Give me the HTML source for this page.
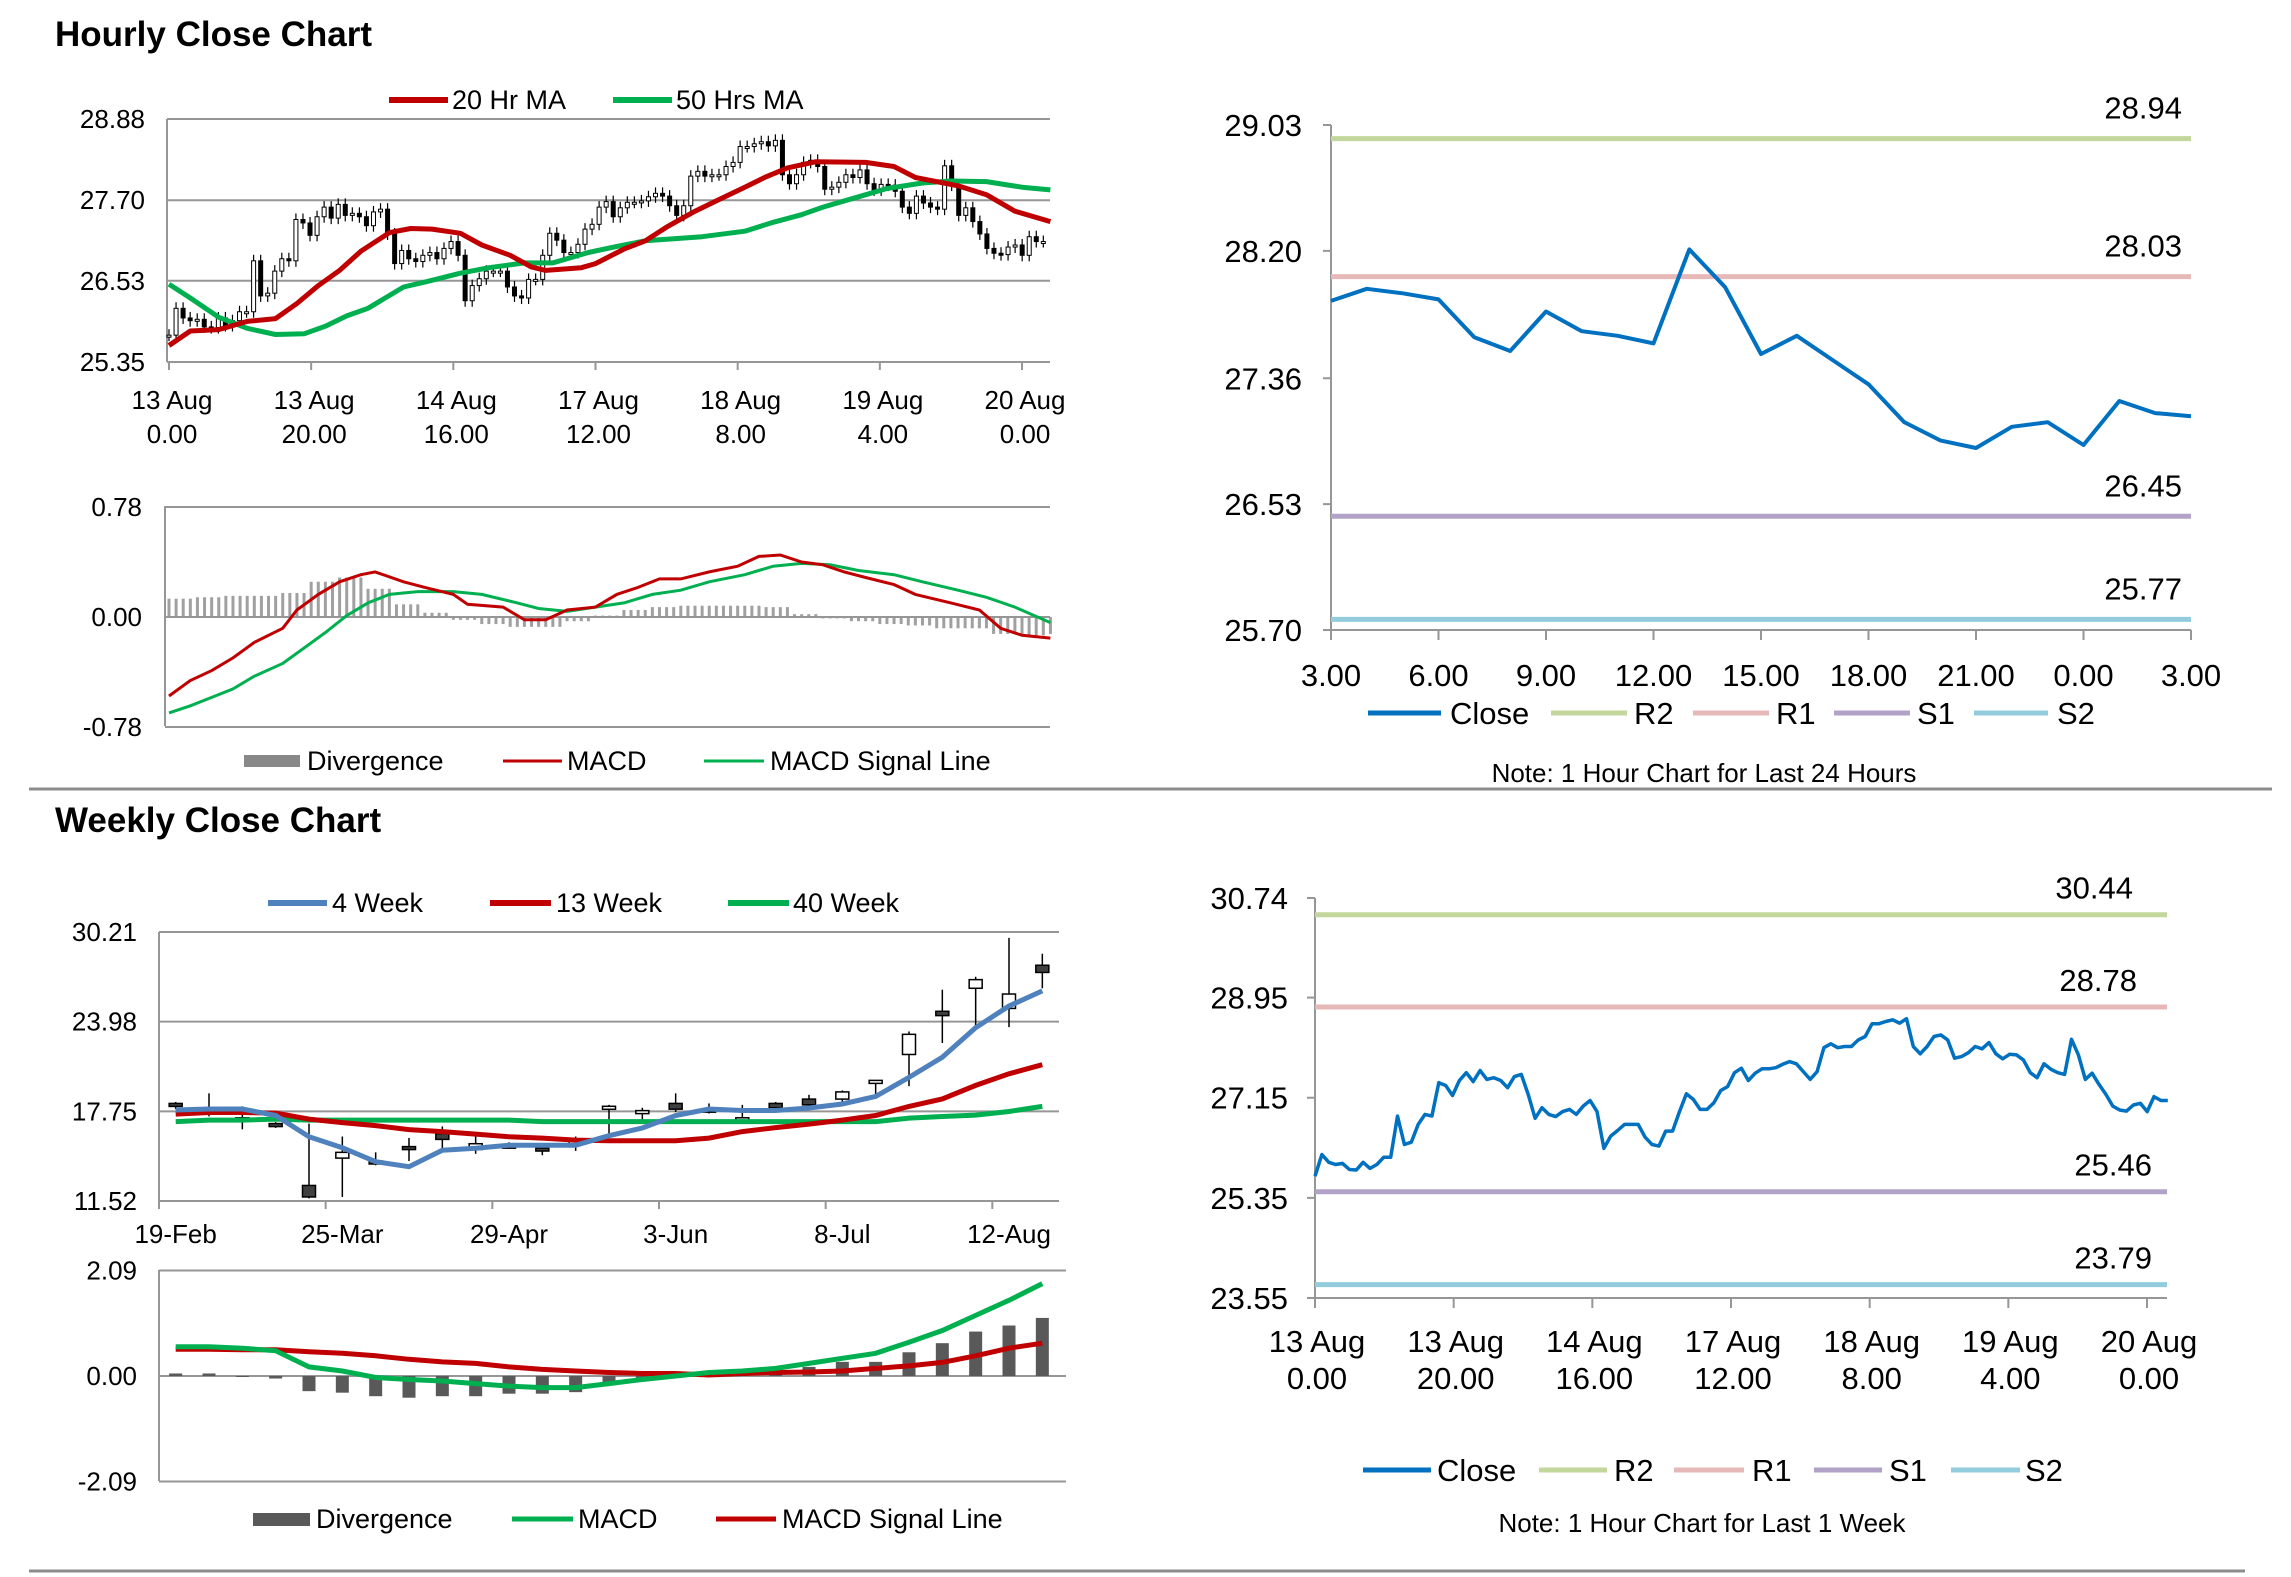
<!DOCTYPE html>
<html><head><meta charset="utf-8"><style>
html,body{margin:0;padding:0;background:#fff;}
svg{display:block;font-family:"Liberation Sans Narrow","Liberation Sans",sans-serif;}
</style></head><body>
<svg id="s" width="2291" height="1577" viewBox="0 0 2291 1577" xmlns="http://www.w3.org/2000/svg">
<rect x="0" y="0" width="2291" height="1577" fill="#fff"/>
<text x="55" y="46" font-size="35" font-weight="bold" font-family="Liberation Sans, sans-serif">Hourly Close Chart</text>
<text x="55" y="832" font-size="35" font-weight="bold" font-family="Liberation Sans, sans-serif">Weekly Close Chart</text>
<line x1="29" y1="789" x2="2272" y2="789" stroke="#8c8c8c" stroke-width="3"/>
<line x1="29" y1="1571" x2="2245" y2="1571" stroke="#8c8c8c" stroke-width="3"/>

<g font-size="27">
<line x1="389" y1="100" x2="448" y2="100" stroke="#c00000" stroke-width="6"/>
<text x="452" y="109">20 Hr MA</text>
<line x1="613" y1="100" x2="672" y2="100" stroke="#00b050" stroke-width="6"/>
<text x="676" y="109">50 Hrs MA</text>
</g>
<g font-size="27">
<rect x="244" y="755" width="56" height="12" fill="#888"/>
<text x="307" y="770">Divergence</text>
<line x1="503" y1="761" x2="562" y2="761" stroke="#c00000" stroke-width="3"/>
<text x="567" y="770">MACD</text>
<line x1="704" y1="761" x2="764" y2="761" stroke="#00b050" stroke-width="3"/>
<text x="770" y="770">MACD Signal Line</text>
</g>

<g font-size="31">
<line x1="1368" y1="713" x2="1441" y2="713" stroke="#0070c0" stroke-width="5"/>
<text x="1450" y="724">Close</text>
<line x1="1551" y1="713" x2="1627" y2="713" stroke="#c3d69b" stroke-width="5"/>
<text x="1634" y="724">R2</text>
<line x1="1693" y1="713" x2="1769" y2="713" stroke="#e6b9b8" stroke-width="5"/>
<text x="1776" y="724">R1</text>
<line x1="1834" y1="713" x2="1910" y2="713" stroke="#b3a2c7" stroke-width="5"/>
<text x="1917" y="724">S1</text>
<line x1="1974" y1="713" x2="2048" y2="713" stroke="#93cddd" stroke-width="5"/>
<text x="2057" y="724">S2</text>
</g>
<text x="1704" y="782" font-size="26" text-anchor="middle">Note: 1 Hour Chart for Last 24 Hours</text>

<g font-size="27">
<line x1="268" y1="903" x2="327" y2="903" stroke="#4f81bd" stroke-width="6"/>
<text x="332" y="912">4 Week</text>
<line x1="490" y1="903" x2="551" y2="903" stroke="#c00000" stroke-width="6"/>
<text x="556" y="912">13 Week</text>
<line x1="728" y1="903" x2="789" y2="903" stroke="#00b050" stroke-width="6"/>
<text x="793" y="912">40 Week</text>
</g>
<g font-size="27">
<rect x="253" y="1513" width="57" height="13" fill="#595959"/>
<text x="316" y="1528">Divergence</text>
<line x1="512" y1="1519" x2="573" y2="1519" stroke="#00b050" stroke-width="5"/>
<text x="578" y="1528">MACD</text>
<line x1="716" y1="1519" x2="776" y2="1519" stroke="#c00000" stroke-width="5"/>
<text x="782" y="1528">MACD Signal Line</text>
</g>

<g font-size="31">
<line x1="1363" y1="1470" x2="1431" y2="1470" stroke="#0070c0" stroke-width="5"/>
<text x="1437" y="1481">Close</text>
<line x1="1539" y1="1470" x2="1607" y2="1470" stroke="#c3d69b" stroke-width="5"/>
<text x="1614" y="1481">R2</text>
<line x1="1674" y1="1470" x2="1744" y2="1470" stroke="#e6b9b8" stroke-width="5"/>
<text x="1752" y="1481">R1</text>
<line x1="1814" y1="1470" x2="1882" y2="1470" stroke="#b3a2c7" stroke-width="5"/>
<text x="1889" y="1481">S1</text>
<line x1="1951" y1="1470" x2="2020" y2="1470" stroke="#93cddd" stroke-width="5"/>
<text x="2025" y="1481">S2</text>
</g>
<text x="1702" y="1532" font-size="26" text-anchor="middle">Note: 1 Hour Chart for Last 1 Week</text>
</svg>
<script>
// ---------- data ----------
const hourlyCloses = [25.74,26.13,25.99,25.95,25.97,25.86,25.85,25.99,25.88,25.95,26.08,26.08,26.82,26.31,26.35,26.67,26.85,26.82,27.42,27.37,27.19,27.46,27.60,27.44,27.64,27.48,27.51,27.46,27.33,27.53,27.57,27.21,26.78,26.97,26.85,26.81,26.90,26.94,26.85,27.00,27.10,26.90,26.24,26.46,26.56,26.67,26.67,26.67,26.44,26.31,26.28,26.55,26.55,26.90,27.22,27.12,26.94,26.94,27.06,27.28,27.35,27.60,27.68,27.46,27.59,27.67,27.67,27.69,27.75,27.80,27.76,27.62,27.48,27.62,28.05,28.12,28.05,28.07,28.07,28.19,28.25,28.48,28.48,28.52,28.55,28.49,28.57,28.07,27.94,28.07,28.25,28.28,28.19,27.86,27.89,27.96,28.07,28.03,28.14,27.94,27.85,27.93,27.92,27.83,27.60,27.51,27.76,27.66,27.60,27.57,28.20,27.92,27.48,27.59,27.39,27.21,27.00,26.93,26.91,27.02,27.05,26.90,27.17,27.10,27.10];
const hourlySpanHours = 123;
const hourTickLabels1 = ["13 Aug","13 Aug","14 Aug","17 Aug","18 Aug","19 Aug","20 Aug"];
const hourTickLabels2 = ["0.00","20.00","16.00","12.00","8.00","4.00","0.00"];
const ma20Hours = [0,3,7,11,15,18,21,24,27,31,34,37,41,44,48,51,53,58,60,64,67,70,74,77,81,84,87,91,98,102,105,111,115,119,124];
const ma20Values = [25.59,25.80,25.82,25.94,25.98,26.20,26.46,26.68,26.96,27.23,27.29,27.28,27.22,27.05,26.90,26.73,26.68,26.72,26.78,26.99,27.11,27.31,27.54,27.69,27.89,28.04,28.17,28.26,28.25,28.19,28.03,27.91,27.78,27.54,27.39];
const ma50Hours = [0,3,7,11,15,19,22,25,28,33,36,41,45,50,54,59,63,67,71,75,81,85,89,92,97,101,106,110,115,120,124];
const ma50Values = [26.48,26.28,26.00,25.84,25.75,25.76,25.87,26.02,26.13,26.44,26.51,26.64,26.72,26.79,26.79,26.94,27.03,27.11,27.14,27.17,27.25,27.38,27.49,27.60,27.75,27.87,27.95,27.98,27.97,27.89,27.85];
const macdHours = [0,3,6,9,12,16,18,21,24,27,29,33,36,40,42,47,50,53,56,60,63,66,69,72,76,80,83,86,89,92,95,98,102,105,110,114,117,120,124];
const macdValues = [-0.56,-0.45,-0.38,-0.29,-0.18,-0.08,0.05,0.16,0.25,0.30,0.32,0.25,0.21,0.16,0.09,0.07,-0.02,-0.02,0.05,0.07,0.16,0.21,0.27,0.27,0.32,0.36,0.43,0.44,0.39,0.37,0.32,0.28,0.23,0.16,0.10,0.05,-0.08,-0.13,-0.15];
const signalHours = [0,3,6,9,12,16,19,22,25,28,31,35,40,44,49,52,56,60,64,68,72,76,81,85,89,93,97,102,106,111,115,119,124];
const signalValues = [-0.68,-0.63,-0.57,-0.51,-0.42,-0.33,-0.22,-0.11,0.01,0.10,0.16,0.18,0.18,0.16,0.10,0.06,0.04,0.07,0.10,0.16,0.19,0.25,0.30,0.36,0.38,0.37,0.33,0.30,0.25,0.19,0.14,0.07,-0.04];
const divergence4h = [0.13,0.14,0.15,0.15,0.17,0.25,0.28,0.20,0.09,0.03,-0.02,-0.05,-0.07,-0.07,-0.03,0.01,0.05,0.07,0.08,0.08,0.08,0.07,0.02,-0.01,-0.03,-0.05,-0.06,-0.08,-0.08,-0.12,-0.13,-0.12];

const dayCloses = [27.87,27.95,27.92,27.88,27.63,27.54,27.80,27.67,27.64,27.59,28.21,27.96,27.52,27.64,27.48,27.32,27.07,26.95,26.90,27.04,27.07,26.92,27.21,27.13,27.11];
const dayTickLabels = ["3.00","6.00","9.00","12.00","15.00","18.00","21.00","0.00","3.00"];
const dayLevelNames = ["R2","R1","S1","S2"];
const dayLevels = [28.94,28.03,26.45,25.77];
const dayTicks = [29.03,28.20,27.36,26.53,25.70];

const weekLevels = [30.44,28.78,25.46,23.79];
const weekTicks = [30.74,28.95,27.15,25.35,23.55];

const weekCategories = ["19-Feb","26-Feb","4-Mar","11-Mar","18-Mar","25-Mar","1-Apr","8-Apr","15-Apr","22-Apr","29-Apr","6-May","13-May","20-May","27-May","3-Jun","10-Jun","17-Jun","24-Jun","1-Jul","8-Jul","15-Jul","22-Jul","29-Jul","5-Aug","12-Aug","19-Aug"];
const weekOpen  = [18.3,18.0,17.3,16.9,12.6,14.5,14.3,15.3,16.2,15.1,15.4,15.2,15.6,18.0,17.6,18.3,17.8,17.2,18.3,18.6,18.6,19.8,21.7,24.7,26.3,24.9,27.9];
const weekClose = [18.1,17.9,17.2,16.7,11.8,14.9,14.2,15.1,15.8,15.5,15.3,15.0,15.7,18.1,17.8,17.9,17.9,17.3,18.0,18.2,19.1,19.9,23.1,24.4,26.9,25.9,27.4];
const weekHigh  = [18.4,19.0,18.1,17.0,16.9,16.0,14.9,15.9,16.7,16.0,15.6,15.3,16.0,18.2,18.0,19.0,18.3,18.2,18.4,18.9,19.2,19.9,23.3,26.2,27.1,29.8,28.7];
const weekLow   = [17.9,17.4,16.5,16.6,11.7,11.8,14.0,14.3,15.2,14.8,15.2,14.7,15.0,16.0,17.2,17.7,17.6,17.0,17.7,17.9,18.1,18.8,19.5,22.5,23.7,23.6,26.3];
const ma4Week  = [17.84,17.91,17.91,17.46,15.99,15.22,14.25,13.90,15.05,15.19,15.40,15.40,15.40,16.06,16.59,17.46,17.91,17.81,17.81,17.98,18.26,18.79,20.11,21.51,23.57,25.07,26.12];
const ma13Week = [17.56,17.67,17.67,17.63,17.21,16.97,16.76,16.48,16.34,16.17,15.99,15.89,15.75,15.71,15.71,15.71,15.89,16.34,16.62,16.86,17.14,17.46,18.09,18.61,19.55,20.36,20.99];
const ma40Week = [17.04,17.14,17.14,17.21,17.14,17.14,17.14,17.14,17.14,17.14,17.14,17.04,17.04,17.04,17.04,17.04,17.04,17.04,17.04,17.04,17.04,17.04,17.28,17.39,17.49,17.74,18.09];
const weekPriceTicks = [30.21,23.98,17.75,11.52];
const weekMacd = [0.58,0.58,0.55,0.50,0.18,0.10,-0.03,-0.07,-0.10,-0.15,-0.20,-0.23,-0.23,-0.15,-0.07,0.00,0.07,0.10,0.15,0.25,0.35,0.45,0.67,0.90,1.20,1.50,1.83];
const weekSignal = [0.53,0.53,0.52,0.52,0.48,0.45,0.40,0.33,0.28,0.25,0.18,0.13,0.10,0.07,0.05,0.05,0.02,0.05,0.07,0.08,0.10,0.15,0.20,0.27,0.40,0.55,0.65];
const weekDivergence = [0.05,0.05,-0.02,-0.05,-0.30,-0.33,-0.40,-0.43,-0.40,-0.40,-0.35,-0.35,-0.32,-0.18,-0.10,-0.03,0.05,0.07,0.10,0.18,0.28,0.28,0.47,0.65,0.88,1.00,1.15];
const weekMacdTicks = [2.09,0.00,-2.09];
const hourPriceTicks = [28.88,27.70,26.53,25.35];
const hourMacdTicks = [0.78,0.00,-0.78];

// ---------- helpers ----------
const svg = document.getElementById('s');
const NS = 'http://www.w3.org/2000/svg';
function mk(tag, attrs) {
  const e = document.createElementNS(NS, tag);
  for (const k in attrs) e.setAttribute(k, attrs[k]);
  svg.appendChild(e);
  return e;
}
function txt(x, y, s, size, anchor) {
  const e = mk('text', {x: x, y: y, 'font-size': size, 'text-anchor': anchor || 'start'});
  e.textContent = s;
  return e;
}
function pathFrom(xs, ys) {
  let d = '';
  for (let i = 0; i < xs.length; i++) d += (i ? 'L' : 'M') + xs[i].toFixed(1) + ',' + ys[i].toFixed(1);
  return d;
}
function hourIndex(i) { return i * hourlySpanHours / (hourlyCloses.length - 1); }

// ---------- Chart 1: hourly candles ----------
const x1 = h => 169 + h * 853 / 120;
const y1 = v => 119 + (28.88 - v) / 3.53 * 243;
hourPriceTicks.forEach((t, i) => {
  const g = mk('line', {x1: 167, x2: 1050, y1: y1(t), y2: y1(t), stroke: '#969696', 'stroke-width': 2});
  
  
  const l = txt(145, y1(t) + 9, t.toFixed(2), 26, 'end');
  
  
});
let ax = mk('line', {x1: 167, x2: 167, y1: 119, y2: 362, stroke: '#969696', 'stroke-width': 2});


for (let k = 0; k < 7; k++) {
  const tx = x1(k * 20);
  const tk = mk('line', {x1: tx, x2: tx, y1: 362, y2: 370, stroke: '#969696', 'stroke-width': 2});
  
  
  const a = txt(tx + 3, 409, hourTickLabels1[k], 26, 'middle');
  
  
  const b = txt(tx + 3, 443, hourTickLabels2[k], 26, 'middle');
  
  
}
hourlyCloses.forEach((c, i) => {
  const o = i > 0 ? hourlyCloses[i - 1] : c;
  const cx = x1(hourIndex(i));
  const top = y1(Math.max(o, c)), bot = y1(Math.min(o, c));
  const w = mk('line', {x1: cx, x2: cx, y1: top - 6, y2: bot + 6, stroke: '#000', 'stroke-width': 1.2});
  
  
  const r = mk('rect', {x: cx - 2, y: top, width: 4, height: Math.max(2, bot - top), fill: c >= o ? '#fff' : '#000', stroke: '#000', 'stroke-width': 1});
  
  
});
let p = mk('path', {d: pathFrom(ma50Hours.map(x1), ma50Values.map(y1)), fill: 'none', stroke: '#00b050', 'stroke-width': 5, 'stroke-linejoin': 'round'});


p = mk('path', {d: pathFrom(ma20Hours.map(x1), ma20Values.map(y1)), fill: 'none', stroke: '#c00000', 'stroke-width': 5, 'stroke-linejoin': 'round'});



// ---------- Chart 1b: hourly MACD ----------
const ym1 = v => 617 - v * 141;
hourMacdTicks.forEach(t => {
  if (t !== 0) {
    const g = mk('line', {x1: 165, x2: 1050, y1: ym1(t), y2: ym1(t), stroke: '#969696', 'stroke-width': 2});
    
    
  }
  const l = txt(142, ym1(t) + 9, t.toFixed(2), 26, 'end');
  
  
});
ax = mk('line', {x1: 165, x2: 165, y1: 506, y2: 726, stroke: '#969696', 'stroke-width': 2});


for (let h = 0; h <= 124; h++) {
  const v = divergence4h[Math.min(divergence4h.length - 1, Math.floor(h / 4))];
  const bx = x1(h);
  const b = mk('rect', {x: bx - 1.5, y: Math.min(ym1(v), ym1(0)), width: 3, height: Math.abs(ym1(v) - ym1(0)), fill: '#a0a0a0'});
  
  
}
ax = mk('line', {x1: 165, x2: 1050, y1: ym1(0), y2: ym1(0), stroke: '#969696', 'stroke-width': 2});


p = mk('path', {d: pathFrom(signalHours.map(x1), signalValues.map(ym1)), fill: 'none', stroke: '#00b050', 'stroke-width': 3});


p = mk('path', {d: pathFrom(macdHours.map(x1), macdValues.map(ym1)), fill: 'none', stroke: '#c00000', 'stroke-width': 3});



// ---------- Chart 2: last 24 hours ----------
const levelColors = ['#c3d69b', '#e6b9b8', '#b3a2c7', '#93cddd'];
const x2 = h => 1331 + h / 24 * 860;
const y2 = v => 125 + (29.03 - v) / 3.33 * 505;
dayTicks.forEach(t => {
  const tk = mk('line', {x1: 1323, x2: 1331, y1: y2(t), y2: y2(t), stroke: '#969696', 'stroke-width': 2});
  
  
  const l = txt(1302, y2(t) + 11, t.toFixed(2), 31, 'end');
  
  
});
ax = mk('line', {x1: 1331, x2: 1331, y1: 125, y2: 630, stroke: '#969696', 'stroke-width': 2});


ax = mk('line', {x1: 1331, x2: 2191, y1: 630, y2: 630, stroke: '#969696', 'stroke-width': 2});


dayTickLabels.forEach((s, k) => {
  const tx = x2(k * 3);
  const tk = mk('line', {x1: tx, x2: tx, y1: 630, y2: 640, stroke: '#969696', 'stroke-width': 2});
  
  
  const l = txt(tx, 686, s, 31, 'middle');
  
  
});
dayLevels.forEach((v, k) => {
  const ln = mk('line', {x1: 1331, x2: 2191, y1: y2(v), y2: y2(v), stroke: levelColors[k], 'stroke-width': 5});
  
  
  const l = txt(2182, y2(v) - 20, v.toFixed(2), 31, 'end');
  
  
});
p = mk('path', {d: pathFrom(dayCloses.map((v, i) => x2(i)), dayCloses.map(y2)), fill: 'none', stroke: '#0070c0', 'stroke-width': 4, 'stroke-linejoin': 'round'});



// ---------- Chart 3: weekly candles ----------
const bandW = 900 / weekCategories.length;
const xw = i => 159 + (i + 0.5) * bandW;
const yw = v => 932 + (30.21 - v) / 18.69 * 269;
weekPriceTicks.forEach(t => {
  const g = mk('line', {x1: 159, x2: 1059, y1: yw(t), y2: yw(t), stroke: '#969696', 'stroke-width': 2});
  
  
  const l = txt(137, yw(t) + 9, t.toFixed(2), 26, 'end');
  
  
});
ax = mk('line', {x1: 159, x2: 159, y1: 932, y2: 1201, stroke: '#969696', 'stroke-width': 2});


weekCategories.forEach((c, i) => {
  if (i % 5 === 0) {
    const tk = mk('line', {x1: 159 + i * bandW, x2: 159 + i * bandW, y1: 1201, y2: 1209, stroke: '#969696', 'stroke-width': 2});
    
    
    const l = txt(xw(i), 1243, c, 26, 'middle');
    
    
  }
});
weekCategories.forEach((c, i) => {
  const o = weekOpen[i], cl = weekClose[i];
  const w = mk('line', {x1: xw(i), x2: xw(i), y1: yw(weekHigh[i]), y2: yw(weekLow[i]), stroke: '#000', 'stroke-width': 1.5});
  
  
  const top = yw(Math.max(o, cl)), bot = yw(Math.min(o, cl));
  const r = mk('rect', {x: xw(i) - 6.5, y: top, width: 13, height: Math.max(3, bot - top), fill: cl >= o ? '#fff' : '#404040', stroke: '#000', 'stroke-width': 1.5});
  
  
});
const weekIdx = weekCategories.map((c, i) => xw(i));
p = mk('path', {d: pathFrom(weekIdx, ma40Week.map(yw)), fill: 'none', stroke: '#00b050', 'stroke-width': 5});


p = mk('path', {d: pathFrom(weekIdx, ma13Week.map(yw)), fill: 'none', stroke: '#c00000', 'stroke-width': 5});


p = mk('path', {d: pathFrom(weekIdx, ma4Week.map(yw)), fill: 'none', stroke: '#4f81bd', 'stroke-width': 5});



// ---------- Chart 3b: weekly MACD ----------
const ymw = v => 1376 - v * 50.5;
weekMacdTicks.forEach(t => {
  const g = mk('line', {x1: 159, x2: 1066, y1: ymw(t), y2: ymw(t), stroke: '#969696', 'stroke-width': 2});
  
  
  const l = txt(137, ymw(t) + 9, t.toFixed(2), 26, 'end');
  
  
});
ax = mk('line', {x1: 159, x2: 159, y1: 1270, y2: 1481, stroke: '#969696', 'stroke-width': 2});


weekDivergence.forEach((v, i) => {
  const b = mk('rect', {x: xw(i) - 6.5, y: Math.min(ymw(v), ymw(0)), width: 13, height: Math.max(1, Math.abs(ymw(v) - ymw(0))), fill: '#595959'});
  
  
});
p = mk('path', {d: pathFrom(weekIdx, weekSignal.map(ymw)), fill: 'none', stroke: '#c00000', 'stroke-width': 5});


p = mk('path', {d: pathFrom(weekIdx, weekMacd.map(ymw)), fill: 'none', stroke: '#00b050', 'stroke-width': 5});



// ---------- Chart 4: last 1 week ----------
const x4 = h => 1315 + h * 832 / 120;
const y4 = v => 898 + (30.74 - v) / 7.19 * 400;
weekTicks.forEach(t => {
  const tk = mk('line', {x1: 1307, x2: 1315, y1: y4(t), y2: y4(t), stroke: '#969696', 'stroke-width': 2});
  
  
  const l = txt(1288, y4(t) + 11, t.toFixed(2), 31, 'end');
  
  
});
ax = mk('line', {x1: 1315, x2: 1315, y1: 898, y2: 1298, stroke: '#969696', 'stroke-width': 2});


ax = mk('line', {x1: 1315, x2: 2167, y1: 1298, y2: 1298, stroke: '#969696', 'stroke-width': 2});


for (let k = 0; k < 7; k++) {
  const tx = x4(k * 20);
  const tk = mk('line', {x1: tx, x2: tx, y1: 1298, y2: 1308, stroke: '#969696', 'stroke-width': 2});
  
  
  const a = txt(tx + 2, 1352, hourTickLabels1[k], 31, 'middle');
  
  
  const b = txt(tx + 2, 1389, hourTickLabels2[k], 31, 'middle');
  
  
}
const weekLabelX = [2133, 2137, 2152, 2152];
weekLevels.forEach((v, k) => {
  const ln = mk('line', {x1: 1315, x2: 2167, y1: y4(v), y2: y4(v), stroke: levelColors[k], 'stroke-width': 5});
  
  
  const l = txt(weekLabelX[k], y4(v) - 16, v.toFixed(2), 31, 'end');
  
  
});
p = mk('path', {d: pathFrom(hourlyCloses.map((v, i) => x4(hourIndex(i))), hourlyCloses.map(y4)), fill: 'none', stroke: '#0070c0', 'stroke-width': 3.5, 'stroke-linejoin': 'round'});


</script>
</body></html>
